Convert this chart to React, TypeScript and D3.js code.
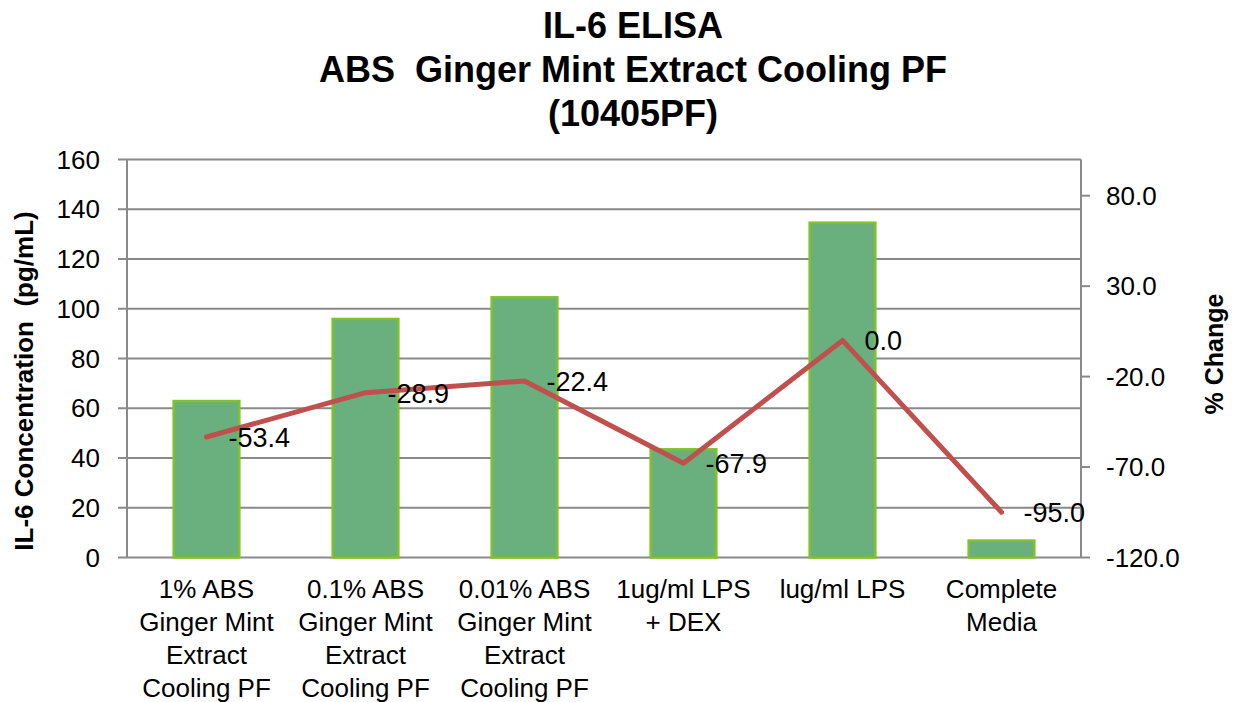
import * as d3 from "d3";

const W = 1234;
const H = 702;
const FONT = "'Liberation Sans', Arial, sans-serif";

// data
const categories = [
  "1% ABS|Ginger Mint|Extract|Cooling PF",
  "0.1% ABS|Ginger Mint|Extract|Cooling PF",
  "0.01% ABS|Ginger Mint|Extract|Cooling PF",
  "1ug/ml LPS|+ DEX",
  "lug/ml LPS",
  "Complete|Media",
];
const concentration = [62.9, 95.9, 104.6, 43.5, 134.6, 6.8];
const pctChange = [-53.4, -28.9, -22.4, -67.9, 0.0, -95.0];
const leftTicks = [0, 20, 40, 60, 80, 100, 120, 140, 160];
const rightTicks = [-120, -70, -20, 30, 80];
const titleLines = ["IL-6 ELISA", "ABS  Ginger Mint Extract Cooling PF", "(10405PF)"];

const PLOT = { left: 127, right: 1081, top: 159.5, bottom: 557.5 };
const GRID = "#8a8a8a";

export default function App() {
  const x = d3
    .scaleBand<number>()
    .domain(categories.map((_, i) => i))
    .range([PLOT.left, PLOT.right])
    .padding(0);
  const barW = x.bandwidth() * 0.413;
  const cx = (i: number) => (x(i) ?? 0) + x.bandwidth() / 2;

  const yL = d3.scaleLinear().domain([0, 160]).range([PLOT.bottom, PLOT.top]);
  const yR = d3.scaleLinear().domain([-120, 100]).range([PLOT.bottom, PLOT.top]);

  const line = d3
    .line<number>()
    .x((_, i) => cx(i))
    .y((d) => yR(d));

  return (
    <svg
      width={W}
      height={H}
      style={{ position: "absolute", left: 0, top: 0, background: "#fff" }}
      fontFamily={FONT}
    >
      {/* title */}
      {titleLines.map((t, i) => (
        <text
          key={t}
          x={633}
          y={25 + i * 44}
          textAnchor="middle"
          dominantBaseline="central"
          fontSize={36}
          fontWeight="bold"
          fill="#000"
          style={{ whiteSpace: "pre" }}
        >
          {t}
        </text>
      ))}

      {/* gridlines + left ticks */}
      {leftTicks.map((t) => (
        <g key={t}>
          <line x1={PLOT.left - 9} x2={PLOT.right} y1={yL(t)} y2={yL(t)} stroke={GRID} strokeWidth={2} />
          <text
            x={100}
            y={yL(t)}
            textAnchor="end"
            dominantBaseline="central"
            fontSize={26}
            fill="#000"
          >
            {t}
          </text>
        </g>
      ))}
      <line x1={PLOT.left} x2={PLOT.left} y1={PLOT.top} y2={PLOT.bottom} stroke={GRID} strokeWidth={2} />

      {/* right axis */}
      <line x1={PLOT.right} x2={PLOT.right} y1={PLOT.top} y2={PLOT.bottom} stroke={GRID} strokeWidth={2} />
      {rightTicks.map((t) => (
        <g key={t}>
          <line x1={PLOT.right} x2={PLOT.right + 9} y1={yR(t)} y2={yR(t)} stroke={GRID} strokeWidth={2} />
          <text x={1106} y={yR(t)} dominantBaseline="central" fontSize={26} fill="#000">
            {t.toFixed(1)}
          </text>
        </g>
      ))}

      {/* bars */}
      {concentration.map((v, i) => (
        <rect
          key={i}
          x={cx(i) - barW / 2}
          y={yL(v)}
          width={barW}
          height={yL(0) - yL(v)}
          fill="#6ab07e"
          stroke="#80c22a"
          strokeWidth={2.5}
        />
      ))}

      {/* % change line */}
      <path
        d={line(pctChange) ?? ""}
        fill="none"
        stroke="#c0504d"
        strokeWidth={5}
        strokeLinejoin="round"
        strokeLinecap="round"
      />
      {pctChange.map((v, i) => (
        <text
          key={i}
          x={cx(i) + 22}
          y={yR(v) + 1}
          dominantBaseline="central"
          fontSize={27}
          fill="#000"
        >
          {v.toFixed(1)}
        </text>
      ))}

      {/* category labels */}
      {categories.map((c, i) => (
        <text key={i} x={cx(i)} y={598} textAnchor="middle" fontSize={26} fill="#000">
          {c.split("|").map((ln, j) => (
            <tspan key={j} x={cx(i)} dy={j === 0 ? 0 : 33}>
              {ln}
            </tspan>
          ))}
        </text>
      ))}

      {/* axis titles */}
      <text
        transform={`translate(24,381) rotate(-90)`}
        textAnchor="middle"
        dominantBaseline="central"
        fontSize={26}
        fontWeight="bold"
        fill="#000"
        style={{ whiteSpace: "pre" }}
      >
        {"IL-6 Concentration  (pg/mL)"}
      </text>
      <text
        transform={`translate(1214,354) rotate(-90)`}
        textAnchor="middle"
        dominantBaseline="central"
        fontSize={25}
        fontWeight="bold"
        fill="#000"
      >
        % Change
      </text>
    </svg>
  );
}
